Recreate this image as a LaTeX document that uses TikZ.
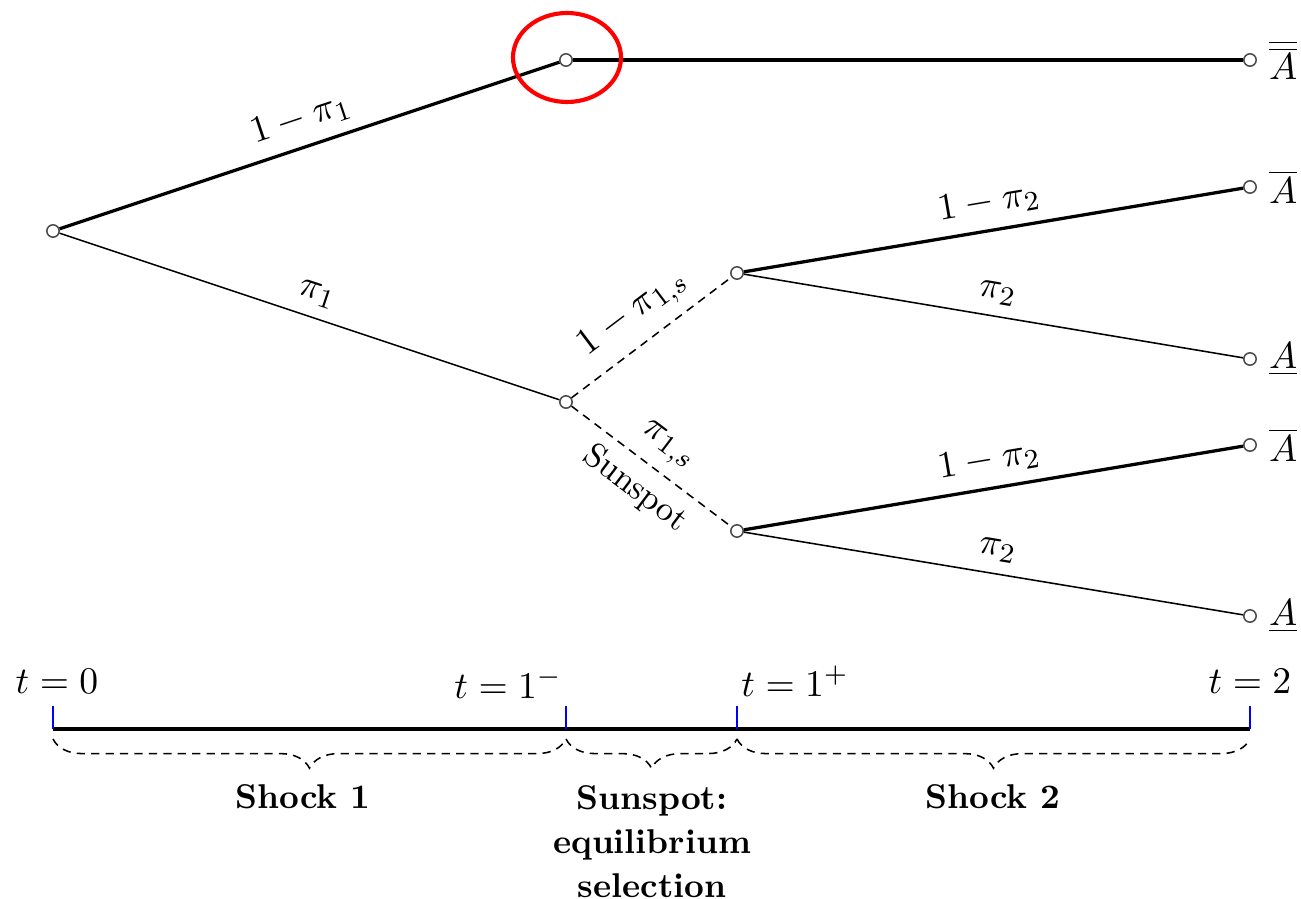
\documentclass[tikz,border=0pt]{standalone}
\usetikzlibrary{decorations.pathreplacing}
\begin{document}
\begin{tikzpicture}[x=0.291pt,y=-0.291pt,
  dot/.style={circle,draw=black!70,fill=white,line width=0.45pt,inner sep=0pt,minimum size=3.6pt},
  thickedge/.style={line width=0.95pt},
  thinedge/.style={line width=0.45pt},
  dashedge/.style={line width=0.45pt,dash pattern=on 2.4pt off 1.8pt},
  tick/.style={blue,line width=0.6pt},
  brc/.style={decorate,decoration={brace,mirror,amplitude=8.5pt},line width=0.45pt,dash pattern=on 2.4pt off 1.8pt},
  mth/.style={font=\fontsize{10.95}{13.6}\selectfont},
  lbl/.style={font=\bfseries,align=center}]
\useasboundingbox (0,0) rectangle (1301,899);
% nodes
\node[dot] (r) at (53,231) {};
\node[dot] (u) at (566,60) {};
\node[dot] (l) at (566,402) {};
\node[dot] (m1) at (737,273) {};
\node[dot] (m2) at (737,531) {};
\node[dot] (e1) at (1250,60) {};
\node[dot] (e2) at (1250,187) {};
\node[dot] (e3) at (1250,359) {};
\node[dot] (e4) at (1250,445) {};
\node[dot] (e5) at (1250,616) {};
% edges
\draw[thickedge] (r) -- node[midway,above,sloped,mth] {$1-\pi_1$} (u);
\draw[thickedge] (u) -- (e1);
\draw[thinedge] (r) -- node[midway,above,sloped,mth] {$\pi_1$} (l);
\draw[dashedge] (l) -- node[midway,above,sloped,mth] {$1-\pi_{1,s}$} (m1);
\draw[dashedge] (l) -- node[midway,above,sloped,mth] {$\pi_{1,s}$} node[midway,below,sloped] {Sunspot} (m2);
\draw[thickedge] (m1) -- node[midway,above,sloped,mth] {$1-\pi_2$} (e2);
\draw[thinedge] (m1) -- node[midway,above,sloped,mth] {$\pi_2$} (e3);
\draw[thickedge] (m2) -- node[midway,above,sloped,mth] {$1-\pi_2$} (e4);
\draw[thinedge] (m2) -- node[midway,above,sloped,mth] {$\pi_2$} (e5);
% end labels
\node[right,mth] (a1) at (e1.east) {$\overline{\overline{A}}$};
\node[right,mth] (a2) at (e2.east) {$\overline{A}$};
\node[right,mth] (a3) at (e3.east) {$\underline{A}$};
\node[right,mth] (a4) at (e4.east) {$\overline{A}$};
\node[right,mth] (a5) at (e5.east) {$\underline{A}$};
% red circle
\draw[red,line width=1.2pt] (567,57.5) ellipse [x radius=54,y radius=44.5];
% timeline
\coordinate (t0) at (53,729);
\coordinate (t1) at (566,729);
\coordinate (t2) at (737,729);
\coordinate (t3) at (1250,729);
\draw[line width=0.9pt] (t0) -- (t3);
\draw[tick] (t0) -- ++(0,-23);
\draw[tick] (t1) -- ++(0,-23);
\draw[tick] (t2) -- ++(0,-23);
\draw[tick] (t3) -- ++(0,-23);
\node[mth] (lt0) at (57,681) {$t=0$};
\node[mth] (lt1) at (508,683) {$t=1^-$};
\node[mth] (lt2) at (795,681) {$t=1^+$};
\node[mth] (lt3) at (1250,681) {$t=2$};
% braces
\draw[brc] (53,739) -- (566,739);
\draw[brc] (566,739) -- (737,739);
\draw[brc] (737,739) -- (1250,739);
\node[lbl] (s1) at (303,797) {Shock 1};
\node[lbl,anchor=north] (s2) at (652,773) {Sunspot:\\[0.8pt]equilibrium\\[0.8pt]selection};
\node[lbl] (s3) at (993,797) {Shock 2};
\end{tikzpicture}
\end{document}
